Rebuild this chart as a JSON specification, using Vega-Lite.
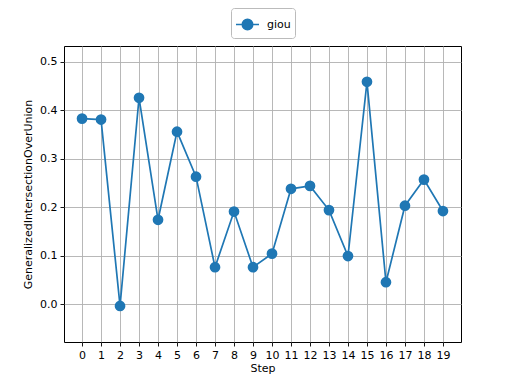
{
  "$schema": "https://vega.github.io/schema/vega-lite/v6.json",
  "width": 397,
  "height": 296,
  "autosize": "none",
  "padding": {"left": 64, "top": 46, "right": 51, "bottom": 42},
  "background": "white",
  "config": {
    "font": "DejaVu Sans",
    "view": {"stroke": "black", "strokeWidth": 1},
    "axis": {
      "domain": false,
      "tickColor": "black",
      "tickSize": 4,
      "tickWidth": 0.9,
      "labelFontSize": 11,
      "labelColor": "black",
      "labelPadding": 3,
      "titleFontSize": 11,
      "titleFontWeight": "normal",
      "titleColor": "black",
      "grid": true,
      "gridColor": "#b0b0b0",
      "gridWidth": 0.9
    },
    "legend": {
      "labelFontSize": 11,
      "labelColor": "black"
    }
  },
  "data": {
    "values": [
      {"step": 0, "value": 0.383, "series": "giou"},
      {"step": 1, "value": 0.381, "series": "giou"},
      {"step": 2, "value": -0.004, "series": "giou"},
      {"step": 3, "value": 0.426, "series": "giou"},
      {"step": 4, "value": 0.174, "series": "giou"},
      {"step": 5, "value": 0.356, "series": "giou"},
      {"step": 6, "value": 0.263, "series": "giou"},
      {"step": 7, "value": 0.076, "series": "giou"},
      {"step": 8, "value": 0.191, "series": "giou"},
      {"step": 9, "value": 0.076, "series": "giou"},
      {"step": 10, "value": 0.104, "series": "giou"},
      {"step": 11, "value": 0.238, "series": "giou"},
      {"step": 12, "value": 0.244, "series": "giou"},
      {"step": 13, "value": 0.194, "series": "giou"},
      {"step": 14, "value": 0.099, "series": "giou"},
      {"step": 15, "value": 0.459, "series": "giou"},
      {"step": 16, "value": 0.045, "series": "giou"},
      {"step": 17, "value": 0.203, "series": "giou"},
      {"step": 18, "value": 0.257, "series": "giou"},
      {"step": 19, "value": 0.192, "series": "giou"}
    ]
  },
  "encoding": {
    "x": {
      "field": "step",
      "type": "quantitative",
      "scale": {"domain": [-0.95, 19.95], "nice": false, "zero": false},
      "axis": {"values": [0,1,2,3,4,5,6,7,8,9,10,11,12,13,14,15,16,17,18,19], "title": "Step", "titlePadding": 2}
    },
    "y": {
      "field": "value",
      "type": "quantitative",
      "scale": {"domain": [-0.0785, 0.533], "nice": false, "zero": false},
      "axis": {"values": [0, 0.1, 0.2, 0.3, 0.4, 0.5], "format": ".1f", "title": "GeneralizedIntersectionOverUnion", "titlePadding": 6}
    },
    "color": {
      "field": "series",
      "type": "nominal",
      "scale": {"range": ["#1f77b4"]},
      "legend": {
        "title": null,
        "orient": "none",
        "legendX": 167,
        "legendY": -38,
        "padding": 4,
        "fillColor": "white",
        "strokeColor": "#bbbbbb",
        "cornerRadius": 3,
        "symbolType": "M-1,0L1,0M-0.45,0A0.45,0.45 0 1,0 0.45,0A0.45,0.45 0 1,0 -0.45,0",
        "symbolSize": 530,
        "symbolStrokeWidth": 1.7,
        "symbolFillColor": "#1f77b4",
        "symbolStrokeColor": "#1f77b4",
        "labelOffset": 7
      }
    }
  },
  "layer": [
    {"mark": {"type": "line", "strokeWidth": 1.7}},
    {"mark": {"type": "point", "filled": true, "size": 115, "opacity": 1}}
  ]
}
